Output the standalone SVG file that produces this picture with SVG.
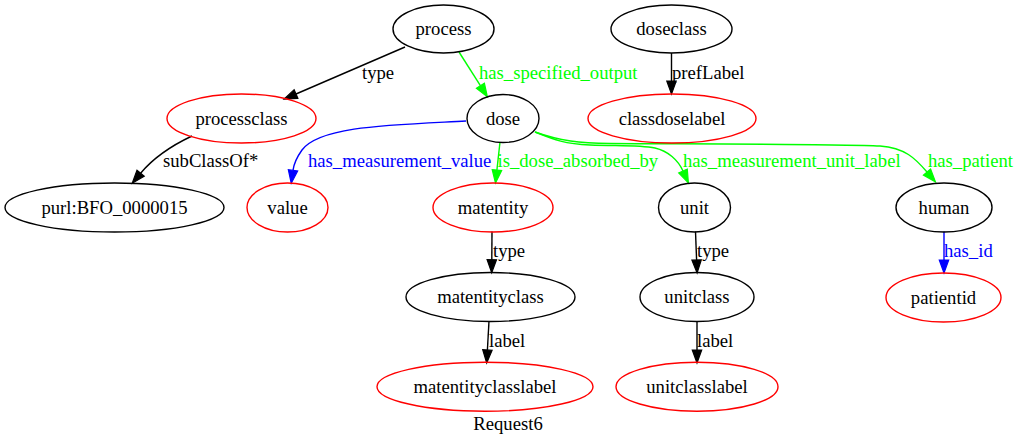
<svg xmlns="http://www.w3.org/2000/svg" width="1017" height="441" viewBox="0 0 1017 441">
<style>
  text { font-family: "Liberation Serif", "Times New Roman", serif; font-size: 18.67px; }
  .node ellipse { fill: none; stroke-width: 1.4; }
  .blk ellipse { stroke: #000000; }
  .red ellipse { stroke: #ff0000; }
  .node text { text-anchor: middle; fill: #000000; }
  .edge { fill: none; stroke-width: 1.4; }
  .e-black { stroke: #000000; }
  .e-green { stroke: #00ff00; }
  .e-blue { stroke: #0000ff; }
  .lbl-black { fill: #000000; }
  .lbl-green { fill: #00ff00; }
  .lbl-blue { fill: #0000ff; }
</style>
<defs>
  <marker id="arrow-black" markerUnits="userSpaceOnUse" markerWidth="14" markerHeight="11" refX="0" refY="4.7" orient="auto" overflow="visible">
    <path d="M0,0 L13,4.7 L0,9.4 Z" fill="#000000" stroke="#000000" stroke-width="1.2"/>
  </marker>
  <marker id="arrow-green" markerUnits="userSpaceOnUse" markerWidth="14" markerHeight="11" refX="0" refY="4.7" orient="auto" overflow="visible">
    <path d="M0,0 L13,4.7 L0,9.4 Z" fill="#00ff00" stroke="#00ff00" stroke-width="1.2"/>
  </marker>
  <marker id="arrow-blue" markerUnits="userSpaceOnUse" markerWidth="14" markerHeight="11" refX="0" refY="4.7" orient="auto" overflow="visible">
    <path d="M0,0 L13,4.7 L0,9.4 Z" fill="#0000ff" stroke="#0000ff" stroke-width="1.2"/>
  </marker>
</defs>
<rect x="0" y="0" width="1017" height="441" fill="#ffffff"/>

<g id="connectors">
  <g id="e-process-processclass">
    <path class="edge e-black" d="M405,47 L296,94" marker-end="url(#arrow-black)"/>
    <text class="lbl-black" x="362" y="79">type</text>
  </g>
  <g id="e-processclass-purl">
    <path class="edge e-black" d="M192,136 C175,144 155,156 140.6,173.2" marker-end="url(#arrow-black)"/>
    <text class="lbl-black" x="163" y="167">subClassOf*</text>
  </g>
  <g id="e-process-dose">
    <path class="edge e-green" d="M459,52 L480.4,85.7" marker-end="url(#arrow-green)"/>
    <text class="lbl-green" x="479" y="79">has_specified_output</text>
  </g>
  <g id="e-doseclass-classdoselabel">
    <path class="edge e-black" d="M671.5,53 L671.5,81" marker-end="url(#arrow-black)"/>
    <text class="lbl-black" x="672" y="79">prefLabel</text>
  </g>
  <g id="e-dose-value">
    <path class="edge e-blue" d="M466,121 C390,125 320,126 302,150 C297,157 294,163 293,170.3" marker-end="url(#arrow-blue)"/>
    <text class="lbl-blue" x="308" y="167">has_measurement_value</text>
  </g>
  <g id="e-dose-matentity">
    <path class="edge e-green" d="M500,142 L496.9,170.1" marker-end="url(#arrow-green)"/>
    <text class="lbl-green" x="497.5" y="167">is_dose_absorbed_by</text>
  </g>
  <g id="e-dose-unit">
    <path class="edge e-green" d="M535,132 C555,140 565,144 590,145 C620,146 640,145 655,148 C668,151 678,160 683,171" marker-end="url(#arrow-green)"/>
    <text class="lbl-green" x="683" y="167">has_measurement_unit_label</text>
  </g>
  <g id="e-dose-human">
    <path class="edge e-green" d="M535,132 C560,141 580,143 610,143.5 C700,144 840,144 880,146 C905,148 915,158 927,172" marker-end="url(#arrow-green)"/>
    <text class="lbl-green" x="928" y="167">has_patient</text>
  </g>
  <g id="e-human-patientid">
    <path class="edge e-blue" d="M944,231.5 L944,260" marker-end="url(#arrow-blue)"/>
    <text class="lbl-blue" x="944" y="257">has_id</text>
  </g>
  <g id="e-matentity-matentityclass">
    <path class="edge e-black" d="M492,231.5 L491.8,259.7" marker-end="url(#arrow-black)"/>
    <text class="lbl-black" x="493" y="257">type</text>
  </g>
  <g id="e-unit-unitclass">
    <path class="edge e-black" d="M695.5,231.5 L696.6,260" marker-end="url(#arrow-black)"/>
    <text class="lbl-black" x="697" y="257">type</text>
  </g>
  <g id="e-matentityclass-matentityclasslabel">
    <path class="edge e-black" d="M489,321 L487.4,350" marker-end="url(#arrow-black)"/>
    <text class="lbl-black" x="489" y="347">label</text>
  </g>
  <g id="e-unitclass-unitclasslabel">
    <path class="edge e-black" d="M697,321 L697,350" marker-end="url(#arrow-black)"/>
    <text class="lbl-black" x="697" y="347">label</text>
  </g>
</g>

<g id="process" class="node blk"><ellipse cx="443.5" cy="29" rx="50.5" ry="24"/><text x="443.5" y="35">process</text></g>
<g id="doseclass" class="node blk"><ellipse cx="671.5" cy="29" rx="60.5" ry="24"/><text x="671.5" y="35">doseclass</text></g>
<g id="processclass" class="node red"><ellipse cx="241.5" cy="118.5" rx="74.5" ry="24.5"/><text x="241.5" y="124.5">processclass</text></g>
<g id="dose" class="node blk"><ellipse cx="503" cy="118.5" rx="36" ry="24"/><text x="503" y="124.5">dose</text></g>
<g id="classdoselabel" class="node red"><ellipse cx="672" cy="118.5" rx="84" ry="24.5"/><text x="672" y="124.5">classdoselabel</text></g>
<g id="purl_BFO_0000015" class="node blk"><ellipse cx="114.5" cy="207.5" rx="109.5" ry="24.5"/><text x="114.5" y="213.5">purl:BFO_0000015</text></g>
<g id="value" class="node red"><ellipse cx="287.5" cy="207.5" rx="40.5" ry="24.5"/><text x="287.5" y="213.5">value</text></g>
<g id="matentity" class="node red"><ellipse cx="493" cy="207.5" rx="60" ry="24.5"/><text x="493" y="213.5">matentity</text></g>
<g id="unit" class="node blk"><ellipse cx="694.5" cy="207.5" rx="36" ry="24.5"/><text x="694.5" y="213.5">unit</text></g>
<g id="human" class="node blk"><ellipse cx="944" cy="207.5" rx="48" ry="24.5"/><text x="944" y="213.5">human</text></g>
<g id="matentityclass" class="node blk"><ellipse cx="490.5" cy="297" rx="84.5" ry="24.5"/><text x="490.5" y="303">matentityclass</text></g>
<g id="unitclass" class="node blk"><ellipse cx="697" cy="297" rx="57" ry="24.5"/><text x="697" y="303">unitclass</text></g>
<g id="patientid" class="node red"><ellipse cx="943.5" cy="297.5" rx="57.5" ry="24.5"/><text x="943.5" y="303.5">patientid</text></g>
<g id="matentityclasslabel" class="node red"><ellipse cx="485" cy="386.7" rx="108" ry="24.5"/><text x="485" y="392.7">matentityclasslabel</text></g>
<g id="unitclasslabel" class="node red"><ellipse cx="697" cy="386.7" rx="81" ry="24.5"/><text x="697" y="392.7">unitclasslabel</text></g>

<text id="graph-label" x="508" y="430" text-anchor="middle" fill="#000000">Request6</text>
</svg>
